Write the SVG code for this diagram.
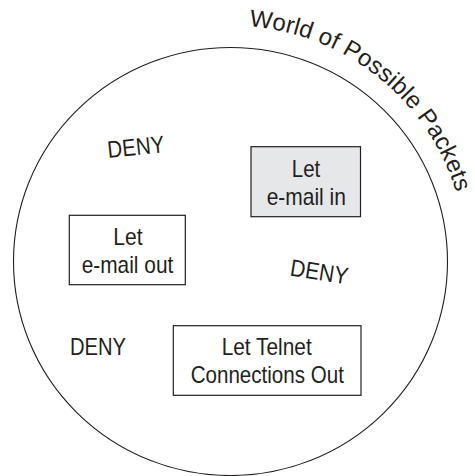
<svg xmlns="http://www.w3.org/2000/svg" width="475" height="476" viewBox="0 0 475 476">
  <style>
    .t { font-family: "Liberation Sans", Arial, sans-serif; font-size: 24px; fill: #231f20; text-anchor: middle; }
    .box { stroke: #231f20; stroke-width: 1.2; fill: #ffffff; }
    .shaded { fill: #e6e7e8; }
  </style>
  <defs>
    <path id="titleArc" d="M 249 26.2 A 236 236 0 0 1 458.5 200.4" fill="none"/>
  </defs>
  <rect width="475" height="476" fill="#ffffff"/>
  <g id="world">
    <ellipse cx="230.5" cy="261.5" rx="217" ry="214" fill="none" stroke="#231f20" stroke-width="1.1"/>
    <text style="font-family: 'Liberation Sans', Arial, sans-serif; font-size: 24px; fill: #231f20;">
      <textPath href="#titleArc" textLength="282" lengthAdjust="spacing">World of Possible Packets</textPath>
    </text>
  </g>
  <g id="deny-top">
    <text class="t" x="136.7" y="155" textLength="57" lengthAdjust="spacingAndGlyphs" transform="rotate(-6 136.7 155)">DENY</text>
  </g>
  <g id="deny-middle">
    <text class="t" x="318" y="280" textLength="58" lengthAdjust="spacingAndGlyphs" transform="rotate(9 318 280)">DENY</text>
  </g>
  <g id="deny-bottom">
    <text class="t" x="98" y="355" textLength="56" lengthAdjust="spacingAndGlyphs">DENY</text>
  </g>
  <g id="email-in">
    <rect class="box shaded" x="251" y="146.7" width="109.5" height="70"/>
    <text class="t" x="306" y="176.7" textLength="28.5" lengthAdjust="spacingAndGlyphs">Let</text>
    <text class="t" x="306.3" y="205" textLength="79.3" lengthAdjust="spacingAndGlyphs">e-mail in</text>
  </g>
  <g id="email-out">
    <rect class="box" x="69.3" y="215.3" width="116" height="69.4"/>
    <text class="t" x="128" y="245" textLength="29.3" lengthAdjust="spacingAndGlyphs">Let</text>
    <text class="t" x="127.5" y="272.7" textLength="91.6" lengthAdjust="spacingAndGlyphs">e-mail out</text>
  </g>
  <g id="telnet-out">
    <rect class="box" x="173.3" y="325.7" width="187.7" height="69.6"/>
    <text class="t" x="266.7" y="355" textLength="90" lengthAdjust="spacingAndGlyphs">Let Telnet</text>
    <text class="t" x="267.3" y="383.3" textLength="153.3" lengthAdjust="spacingAndGlyphs">Connections Out</text>
  </g>
  <g id="connectors"></g>
</svg>
